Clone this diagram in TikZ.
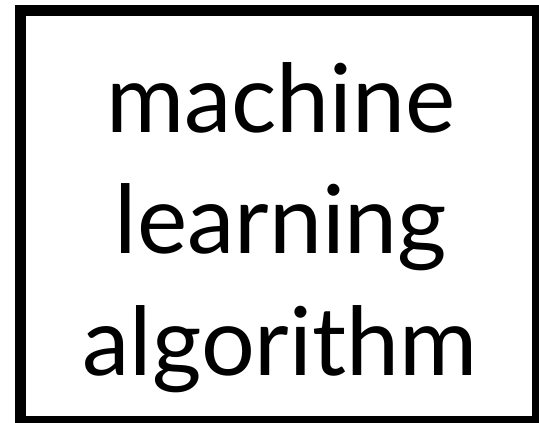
\documentclass[tikz,border=0pt]{standalone}
\usepackage{fontspec}
\setmainfont{Lato}
\usetikzlibrary{positioning}

\begin{document}
\begin{tikzpicture}[x=1pt, y=-1pt,
	frame/.style={draw=black, line width=11pt},
	word/.style={anchor=base, inner sep=0pt, font=\fontsize{95}{120}\selectfont}]
	\useasboundingbox (0,0) rectangle (539,423);
	\clip (0,0) rectangle (539,423);
	\draw[frame] (20.5,10) rectangle (537.5,421.5);
	\node[word] (machine) at (281,132) {machine};
	\node[word] (learning) at (281,253.5) {learning};
	\node[word] (algorithm) at (280,375) {algorithm};
\end{tikzpicture}
\end{document}
